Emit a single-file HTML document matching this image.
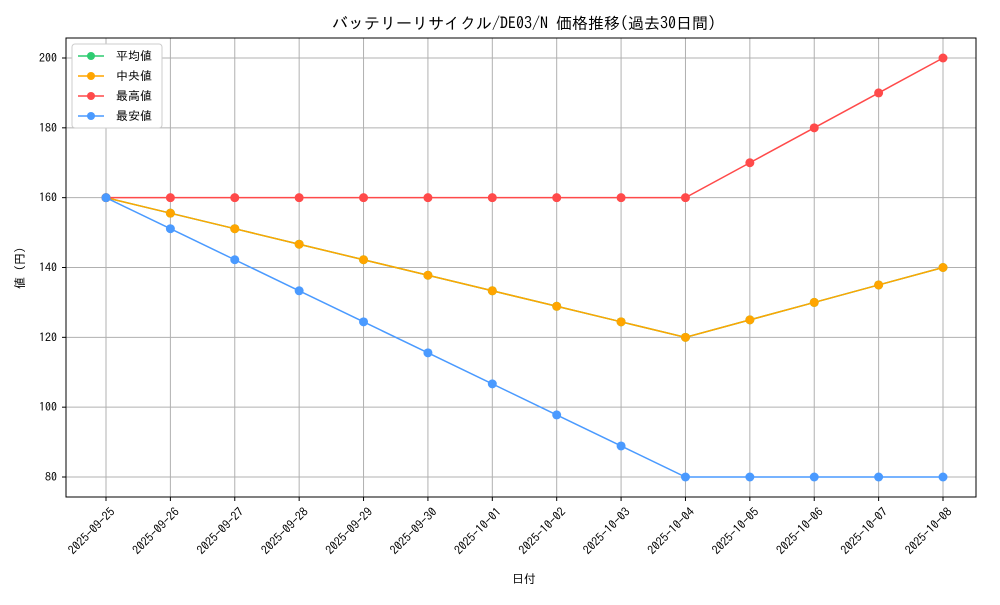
<!DOCTYPE html>
<html><head><meta charset="utf-8"><style>
body{margin:0;background:#fff}
svg text{font-family:"IPAGothic","Noto Sans CJK JP",monospace;fill:#000}
</style></head><body>
<svg width="1000" height="600" xmlns="http://www.w3.org/2000/svg">
<rect width="1000" height="600" fill="#fff"/>
<text x="524" y="29" font-size="16" text-anchor="middle">バッテリーリサイクル/DE03/N 価格推移(過去30日間)</text>
<g id="grid" stroke="#b0b0b0" stroke-width="1"></g>
<rect x="66" y="38" width="910" height="459" fill="none" stroke="#000" stroke-width="1"/>
<g id="ticks" font-size="12"></g>
<text x="524" y="583" font-size="12" text-anchor="middle">日付</text>
<text transform="translate(24,268) rotate(-90)" font-size="12" text-anchor="middle">値 (円)</text>
<g id="series"></g>
<g>
<rect x="72" y="44" width="90" height="84" fill="#fff" stroke="#ccc" rx="3"/>
<line x1="78" y1="56" x2="104" y2="56" stroke="#2ecc71" stroke-width="1.5"/><circle cx="91" cy="56" r="4" fill="#2ecc71"/><text x="116" y="60" font-size="12">平均値</text>
<line x1="78" y1="76" x2="104" y2="76" stroke="#ffa500" stroke-width="1.5"/><circle cx="91" cy="76" r="4" fill="#ffa500"/><text x="116" y="80" font-size="12">中央値</text>
<line x1="78" y1="96" x2="104" y2="96" stroke="#ff4a4a" stroke-width="1.5"/><circle cx="91" cy="96" r="4" fill="#ff4a4a"/><text x="116" y="100" font-size="12">最高値</text>
<line x1="78" y1="116" x2="104" y2="116" stroke="#4a9aff" stroke-width="1.5"/><circle cx="91" cy="116" r="4" fill="#4a9aff"/><text x="116" y="120" font-size="12">最安値</text>
</g>
</svg>
<script>
const ns="http://www.w3.org/2000/svg";
const X=i=>106+i*64.385, Y=v=>477-(v-80)*3.4917;
const g=document.getElementById('grid'),t=document.getElementById('ticks'),s=document.getElementById('series');
function el(p,n,a,txt){const e=document.createElementNS(ns,n);for(const k in a)e.setAttribute(k,a[k]);if(txt)e.textContent=txt;p.appendChild(e);return e;}
const dates=["2025-09-25","2025-09-26","2025-09-27","2025-09-28","2025-09-29","2025-09-30","2025-10-01","2025-10-02","2025-10-03","2025-10-04","2025-10-05","2025-10-06","2025-10-07","2025-10-08"];
dates.forEach((d,i)=>{const x=X(i);el(g,'line',{x1:x,x2:x,y1:38,y2:497});el(t,'line',{x1:x,x2:x,y1:497,y2:501,stroke:'#000'});
el(t,'text',{transform:`translate(${x+4},${507}) rotate(-45)`,'text-anchor':'end','dominant-baseline':'hanging'},d);});
for(let v=80;v<=200;v+=20){const y=Y(v);el(g,'line',{x1:66,x2:976,y1:y,y2:y});el(t,'line',{x1:62,x2:66,y1:y,y2:y,stroke:'#000'});el(t,'text',{x:57,y:y+4,'text-anchor':'end'},v);}
const mx=[160,160,160,160,160,160,160,160,160,160,170,180,190,200];
const md=[160,155.56,151.11,146.67,142.22,137.78,133.33,128.89,124.44,120,125,130,135,140];
const mn=[160,151.11,142.22,133.33,124.44,115.56,106.67,97.78,88.89,80,80,80,80,80];
function draw(d,c){el(s,'polyline',{points:d.map((v,i)=>X(i)+','+Y(v)).join(' '),fill:'none',stroke:c,'stroke-width':1.5});d.forEach((v,i)=>el(s,'circle',{cx:X(i),cy:Y(v),r:4.5,fill:c}));}
draw(md,'#2ecc71');draw(md,'#ffa500');draw(mx,'#ff4a4a');draw(mn,'#4a9aff');
</script>
</body></html>
